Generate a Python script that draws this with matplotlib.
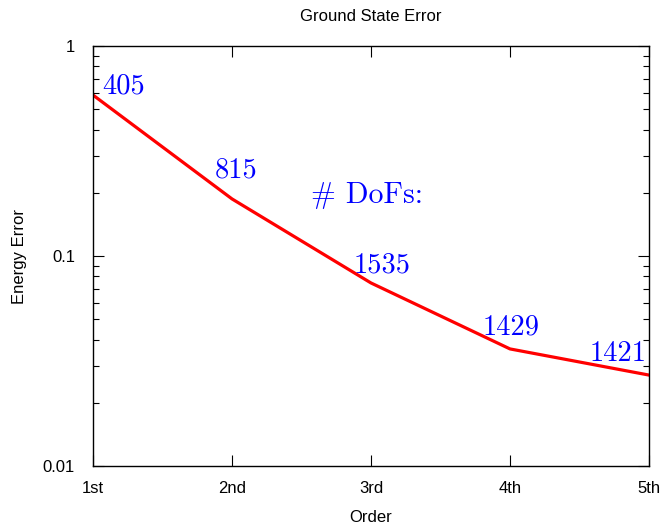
import matplotlib
matplotlib.use("Agg")
import matplotlib.pyplot as plt
from matplotlib.ticker import LogLocator, NullFormatter

orders = ["1st", "2nd", "3rd", "4th", "5th"]
errors = [0.584, 0.187, 0.0744, 0.0361, 0.0271]
dofs = ["405", "815", "1535", "1429", "1421"]
label_y = [0.645, 0.257, 0.0906, 0.0459, 0.0341]
label_dx = [0.223, 0.03, 0.08, 0.01, -0.22]

plt.rcParams['font.family'] = ['Liberation Sans', 'DejaVu Sans']

fig = plt.figure(figsize=(6.63, 5.26), dpi=100)
ax = fig.add_axes([93/663, 1-466/526, (649-93)/663, (466-46)/526])

x = list(range(len(orders)))
ax.plot(x, errors, color='#ff0000', lw=2.3)
ax.set_yscale('log')
ax.set_ylim(0.01, 1)
ax.set_xlim(0, len(orders)-1)
ax.set_xticks(x)
ax.set_xticklabels(orders)
ax.set_yticks([0.01, 0.1, 1])
ax.set_yticklabels(["0.01", "0.1", "1"])
ax.yaxis.set_minor_locator(LogLocator(base=10, subs=range(2, 10)))
ax.yaxis.set_minor_formatter(NullFormatter())
ax.tick_params(which='both', direction='in', top=True, right=True, labelsize=12, width=0.8, colors='black')
ax.tick_params(which='major', length=8)
ax.tick_params(which='minor', length=4)
ax.tick_params(axis='x', pad=11)
ax.tick_params(axis='y', pad=13)
for s in ax.spines.values():
    s.set_linewidth(1.0)

ax.set_title("Ground State Error", fontsize=12, pad=18)
ax.set_xlabel("Order", fontsize=12, labelpad=10)
ax.set_ylabel("Energy Error", fontsize=12, labelpad=11)

for i, (lab, ly, dx) in enumerate(zip(dofs, label_y, label_dx)):
    ax.text(i + dx, ly, lab, color='#0000ff', fontsize=20.5, fontname='cmr10',
            ha='center', va='center')
ax.text(1.97, 0.195, "# DoFs:", color='#0000ff', fontsize=21.5, fontname='cmr10',
        ha='center', va='center')

fig.savefig("out.png", dpi=100)
